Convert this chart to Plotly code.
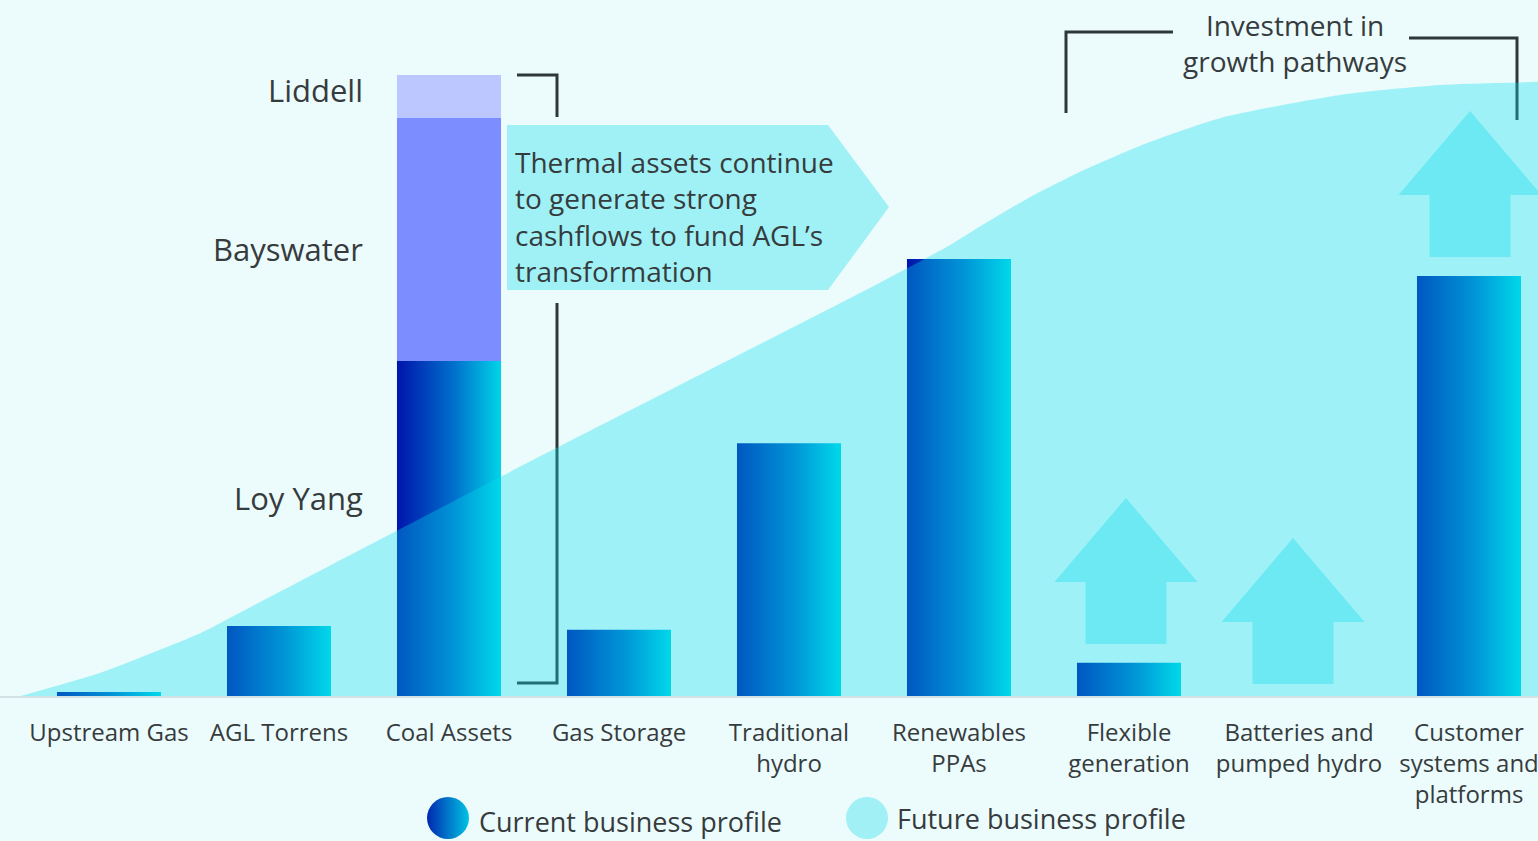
import plotly.graph_objects as go

W, H = 1538, 841
BASE_PX = 697  # pixel row of the baseline

# ---------------- data ----------------
categories = ["Upstream Gas", "AGL Torrens", "Coal Assets", "Gas Storage", "Traditional hydro",
              "Renewables PPAs", "Flexible generation", "Batteries and pumped hydro",
              "Customer systems and platforms"]
tick_labels = ["Upstream Gas", "AGL Torrens", "Coal Assets", "Gas Storage", "Traditional<br>hydro",
               "Renewables<br>PPAs", "Flexible<br>generation", "Batteries and<br>pumped hydro",
               "Customer<br>systems and<br>platforms"]
current_values = [0.8, 11.4, None, 10.8, 40.8, 70.4, 5.5, 0.0, 67.7]
coal_segments = ["Loy Yang", "Bayswater", "Liddell"]
coal_values = [54.0, 39.1, 6.9]
future_x = [-0.54, -0.05, 0.30, 0.54, 0.73, 2.31, 4.54, 4.95, 5.12, 5.42, 5.71, 6.11, 6.54, 7.24, 7.83, 8.41]
future_y = [0.0, 3.9, 7.6, 10.3, 13.0, 35.5, 66.7, 72.7, 75.6, 80.4, 84.4, 89.1, 93.1, 96.8, 98.4, 98.9]

# ---------------- style ----------------
BG = "#ecfbfc"
TXT = "#363c3d"
BAR_SCALE = [[0, "#0014ac"], [0.55, "#0070cc"], [1, "#00d4e8"]]
FONT = "Open Sans"
BAR_W = 0.612
PX_PER_UNIT = 6.22
X0_PX, DX_PX = 109, 170
X_RANGE = [-X0_PX / DX_PX, (W - X0_PX) / DX_PX]
Y_RANGE = [-(H - BASE_PX) / PX_PER_UNIT, BASE_PX / PX_PER_UNIT]


def X(px):
    return px / W


def Y(py):
    return (H - py) / H


fig = go.Figure()


def add_bar(i, base, top, **kw):
    xl, xr = i - BAR_W / 2, i + BAR_W / 2
    fig.add_trace(go.Scatter(x=[xl, xr, xr, xl, xl], y=[base, base, top, top, base],
                             mode="lines", line=dict(width=0), fill="toself",
                             hoverinfo="skip", showlegend=False, **kw))


for i, v in enumerate(current_values):
    if v is None or v <= 0:
        continue
    add_bar(i, 0, v, fillgradient=dict(type="horizontal", colorscale=BAR_SCALE))

# coal stacked
ci = categories.index("Coal Assets")
base = 0
coal_styles = [dict(fillgradient=dict(type="horizontal", colorscale=BAR_SCALE)),
               dict(fillcolor="#7b8dff"), dict(fillcolor="#bcc7ff")]
for v, st in zip(coal_values, coal_styles):
    add_bar(ci, base, base + v, **st)
    base += v

# future business profile area (semi-transparent over bars)
fig.add_trace(go.Scatter(x=future_x, y=future_y, mode="lines",
                         line=dict(width=0, shape="spline", smoothing=0.6),
                         fill="tozeroy", fillcolor="rgba(0,224,236,0.33)",
                         hoverinfo="skip", showlegend=False))

# legend markers
leg_y = -(818 - BASE_PX) / PX_PER_UNIT
fig.add_trace(go.Scatter(x=[(448 - X0_PX) / DX_PX], y=[leg_y], mode="markers",
                         marker=dict(size=42, color="#0028b0", line=dict(width=0),
                                     gradient=dict(type="horizontal", color="#00c4e4")),
                         hoverinfo="skip", showlegend=False))
fig.add_trace(go.Scatter(x=[(867 - X0_PX) / DX_PX], y=[leg_y], mode="markers",
                         marker=dict(size=42, color="#a0f0f6", line=dict(width=0)),
                         hoverinfo="skip", showlegend=False))

shapes = []
LINE = dict(color="#2f3838", width=3)
# brackets
for path in ["M {} {} L {} {} L {} {}".format(X(517), Y(75), X(557), Y(75), X(557), Y(117)),
             "M {} {} L {} {} L {} {}".format(X(557), Y(303), X(557), Y(683), X(517), Y(683)),
             "M {} {} L {} {} L {} {}".format(X(1066), Y(113), X(1066), Y(32), X(1173), Y(32)),
             "M {} {} L {} {} L {} {}".format(X(1409), Y(38), X(1517), Y(38), X(1517), Y(120))]:
    shapes.append(dict(type="path", path=path, xref="paper", yref="paper", line=LINE, layer="below"))

# callout pentagon
callout = "M {} {} L {} {} L {} {} L {} {} L {} {} Z".format(
    X(507), Y(125), X(828), Y(125), X(889), Y(207), X(828), Y(290), X(507), Y(290))
shapes.append(dict(type="path", path=callout, xref="paper", yref="paper",
                   fillcolor="#a0f1f6", line=dict(width=0), layer="above"))

# growth arrows
for cx, apex in [(1126, 498), (1293, 538), (1470, 111)]:
    hw, sw, hh, sh = 71.5, 40.5, 84, 62
    pts = [(cx, apex), (cx + hw, apex + hh), (cx + sw, apex + hh), (cx + sw, apex + hh + sh),
           (cx - sw, apex + hh + sh), (cx - sw, apex + hh), (cx - hw, apex + hh)]
    path = "M " + " L ".join("{} {}".format(X(a), Y(b)) for a, b in pts) + " Z"
    shapes.append(dict(type="path", path=path, xref="paper", yref="paper",
                       fillcolor="#6ce9f2", line=dict(width=0), layer="above"))

annotations = []


def note(text, px, py, size, xanchor="left", align="left"):
    annotations.append(dict(text=text, x=X(px), y=Y(py), xref="paper", yref="paper",
                            xanchor=xanchor, yanchor="middle", align=align, showarrow=False,
                            font=dict(family=FONT, size=size, color=TXT)))


for name, py in zip(coal_segments, [498, 249, 90]):
    note(name, 365, py, 31, xanchor="right", align="right")
note("Thermal assets continue<br>to generate strong<br>cashflows to fund AGL’s<br>transformation", 513, 216, 28)
note("Investment in<br>growth pathways", 1295, 43, 28, xanchor="center", align="center")
note("Current business profile", 477, 821, 27)
note("Future business profile", 895, 818, 27)

fig.update_layout(
    width=W, height=H,
    margin=dict(l=0, r=0, t=0, b=0),
    paper_bgcolor=BG, plot_bgcolor=BG,
    shapes=shapes, annotations=annotations,
    showlegend=False,
    xaxis=dict(range=X_RANGE, tickmode="array", tickvals=list(range(len(categories))),
               ticktext=tick_labels, tickangle=0, showgrid=False, zeroline=False,
               anchor="free", position=(H - BASE_PX) / H, ticklabeloverflow="allow",
               showline=True, linecolor="#d3e3e5", linewidth=2,
               ticks="outside", ticklen=14, tickcolor="rgba(0,0,0,0)",
               tickfont=dict(family=FONT, size=24, color=TXT), automargin=False, fixedrange=True),
    yaxis=dict(range=Y_RANGE, showgrid=False, zeroline=False, showticklabels=False,
               showline=False, automargin=False, fixedrange=True),
)

fig.write_html("out.html", config={"displayModeBar": False},
               post_script="document.body.style.margin='0';")
